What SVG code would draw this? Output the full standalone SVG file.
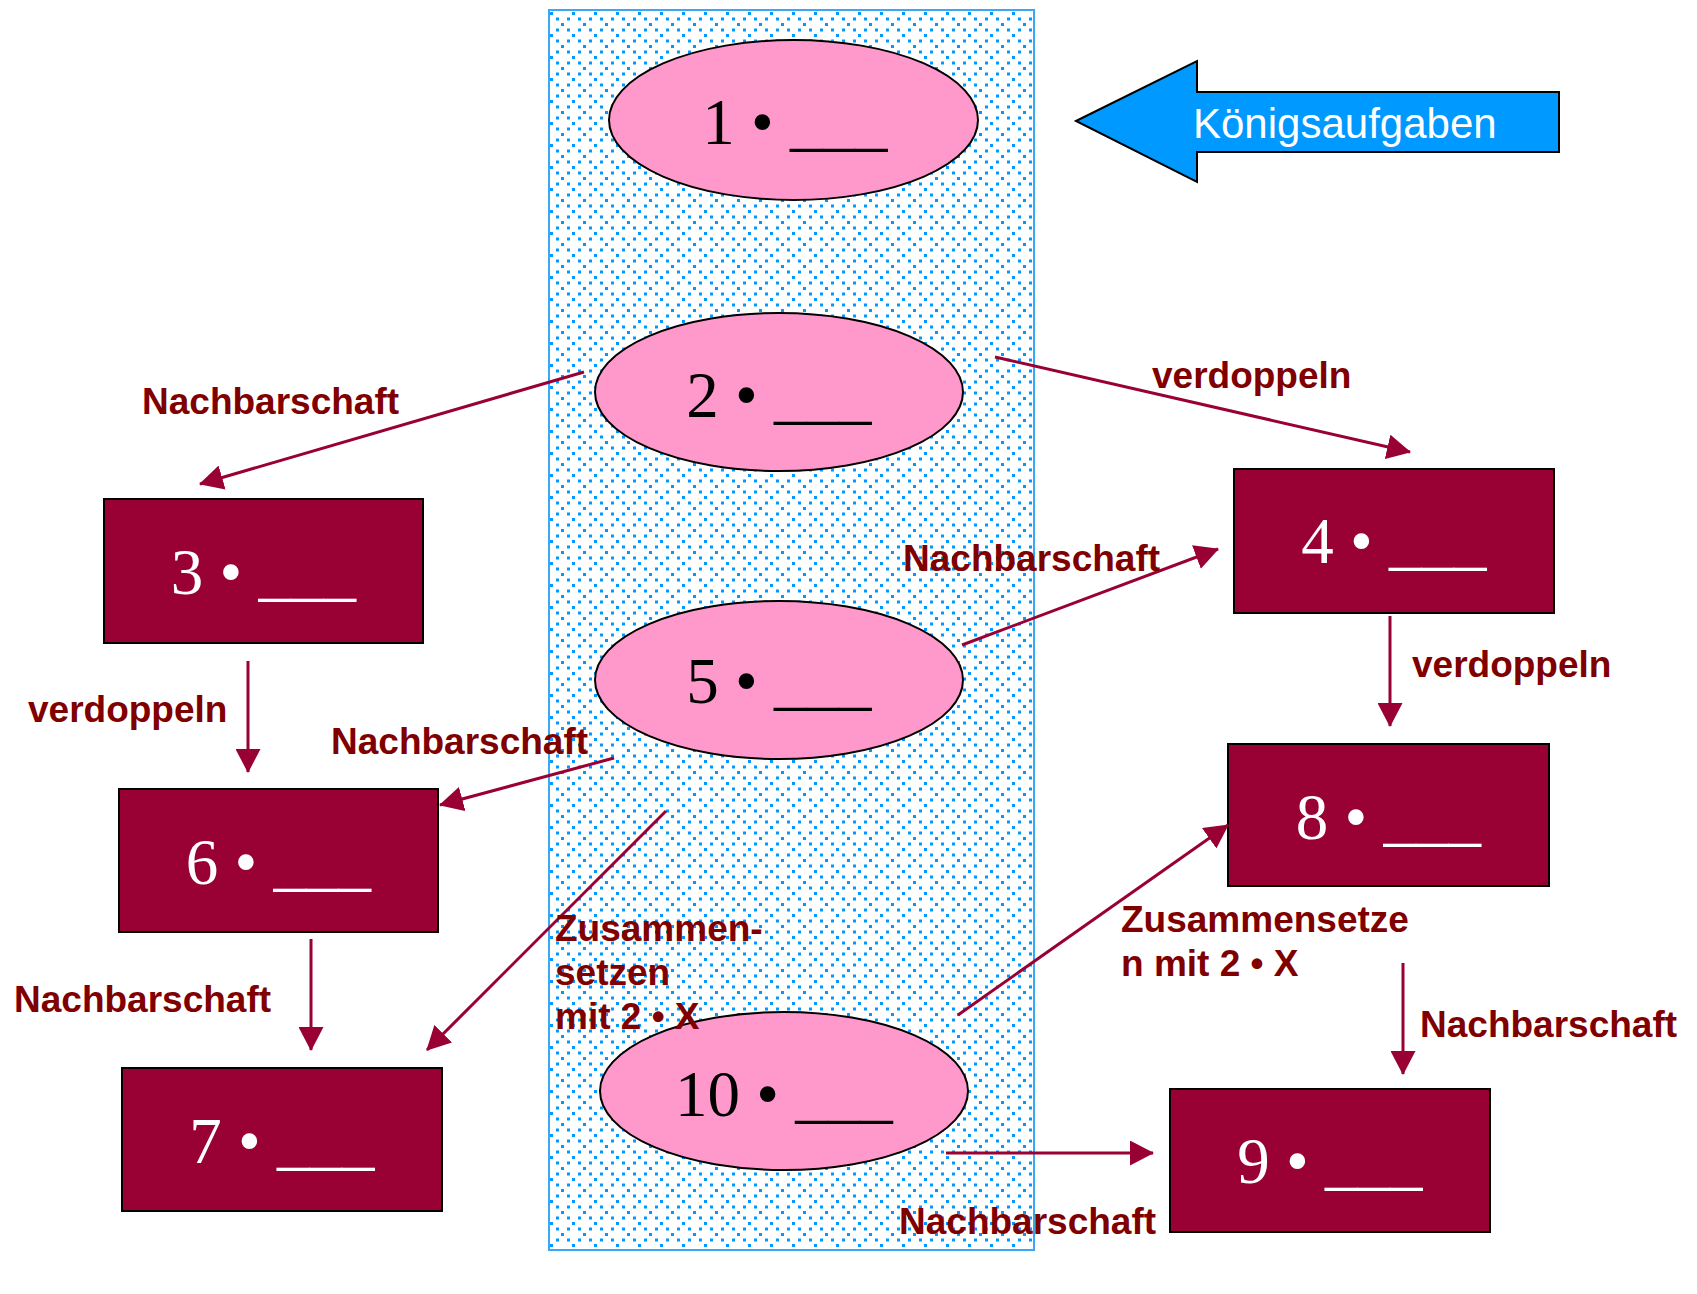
<svg xmlns="http://www.w3.org/2000/svg" width="1697" height="1294" viewBox="0 0 1697 1294">
<defs>
<pattern id="dots" patternUnits="userSpaceOnUse" x="556" y="221" width="22" height="22">
<rect x="5" y="0" width="3" height="3" fill="#0099FF"/>
<rect x="0" y="5.5" width="3" height="3" fill="#0099FF"/>
<rect x="11" y="5.5" width="3" height="3" fill="#0099FF"/>
<rect x="16" y="11" width="3" height="3" fill="#0099FF"/>
<rect x="0" y="16.5" width="3" height="3" fill="#0099FF"/>
<rect x="11" y="16.5" width="3" height="3" fill="#0099FF"/>
</pattern>
<marker id="ah" markerUnits="userSpaceOnUse" markerWidth="24" markerHeight="25" refX="23" refY="12.5" orient="auto">
<path d="M0,0 L24,12.5 L0,25 z" fill="#990033"/>
</marker>
</defs>
<style>
.ell{fill:#FF99CC;stroke:#000;stroke-width:2}
.box{fill:#990033;stroke:#000;stroke-width:2}
.et{font-family:"Liberation Serif","Times New Roman",serif;font-size:65px;fill:#000;text-anchor:middle}
.bt{font-family:"Liberation Serif","Times New Roman",serif;font-size:65px;fill:#fff;text-anchor:middle}
.con line{stroke:#990033;stroke-width:3;marker-end:url(#ah)}
.lbl{font-family:"Liberation Sans",Arial,sans-serif;font-size:37px;font-weight:bold;fill:#800000}
</style>
<rect width="1697" height="1294" fill="#fff"/>
<g id="column">
<rect x="549" y="10" width="485" height="1240" fill="#fff"/>
<rect x="549" y="10" width="485" height="1240" fill="url(#dots)" stroke="#3AA8F5" stroke-width="2"/>
</g>
<g id="koenig">
<path d="M1076,121 L1197,61 L1197,92 L1559,92 L1559,152 L1197,152 L1197,182 Z" fill="#0099FF" stroke="#000" stroke-width="2"/>
<text x="1193" y="138" font-family="'Liberation Sans',Arial,sans-serif" font-size="42" fill="#fff">Königsaufgaben</text>
</g>
<g id="n1"><ellipse class="ell" cx="793.5" cy="120" rx="184.5" ry="80"/><text class="et" x="795" y="144">1 • ___</text></g>
<g id="n2"><ellipse class="ell" cx="779" cy="392" rx="184" ry="79"/><text class="et" x="779" y="417">2 • ___</text></g>
<g id="n5"><ellipse class="ell" cx="779" cy="680" rx="184" ry="79"/><text class="et" x="779" y="703">5 • ___</text></g>
<g id="n10"><ellipse class="ell" cx="784" cy="1091" rx="184" ry="79"/><text class="et" x="784" y="1116">10 • ___</text></g>
<g id="n3"><rect class="box" x="104" y="499" width="319" height="144"/><text class="bt" x="263.5" y="594">3 • ___</text></g>
<g id="n4"><rect class="box" x="1234" y="469" width="320" height="144"/><text class="bt" x="1394" y="563">4 • ___</text></g>
<g id="n6"><rect class="box" x="119" y="789" width="319" height="143"/><text class="bt" x="278.5" y="884">6 • ___</text></g>
<g id="n8"><rect class="box" x="1228" y="744" width="321" height="142"/><text class="bt" x="1388.5" y="839">8 • ___</text></g>
<g id="n7"><rect class="box" x="122" y="1068" width="320" height="143"/><text class="bt" x="282" y="1163">7 • ___</text></g>
<g id="n9"><rect class="box" x="1170" y="1089" width="320" height="143"/><text class="bt" x="1330" y="1183">9 • ___</text></g>
<g id="connectors" class="con">
<line x1="584" y1="372" x2="200" y2="484"/>
<line x1="995" y1="357" x2="1410" y2="452"/>
<line x1="962" y1="645" x2="1218" y2="549"/>
<line x1="1390" y1="616" x2="1390" y2="726"/>
<line x1="248" y1="661" x2="248" y2="772"/>
<line x1="614" y1="758" x2="440" y2="805"/>
<line x1="666" y1="811" x2="427" y2="1050"/>
<line x1="311" y1="939" x2="311" y2="1050"/>
<line x1="958" y1="1015" x2="1228" y2="825"/>
<line x1="1403" y1="963" x2="1403" y2="1074"/>
<line x1="946" y1="1153" x2="1153" y2="1153"/>
</g>
<g id="labels" class="lbl">
<text x="142" y="414">Nachbarschaft</text>
<text x="1152" y="388">verdoppeln</text>
<text x="903" y="571">Nachbarschaft</text>
<text x="1412" y="677">verdoppeln</text>
<text x="28" y="722">verdoppeln</text>
<text x="331" y="754">Nachbarschaft</text>
<text x="555" y="941">Zusammen-</text>
<text x="555" y="985">setzen</text>
<text x="555" y="1029">mit 2 • X</text>
<text x="14" y="1012">Nachbarschaft</text>
<text x="1121" y="932">Zusammensetze</text>
<text x="1121" y="976">n mit 2 • X</text>
<text x="1420" y="1037">Nachbarschaft</text>
<text x="899" y="1234">Nachbarschaft</text>
</g>
</svg>
